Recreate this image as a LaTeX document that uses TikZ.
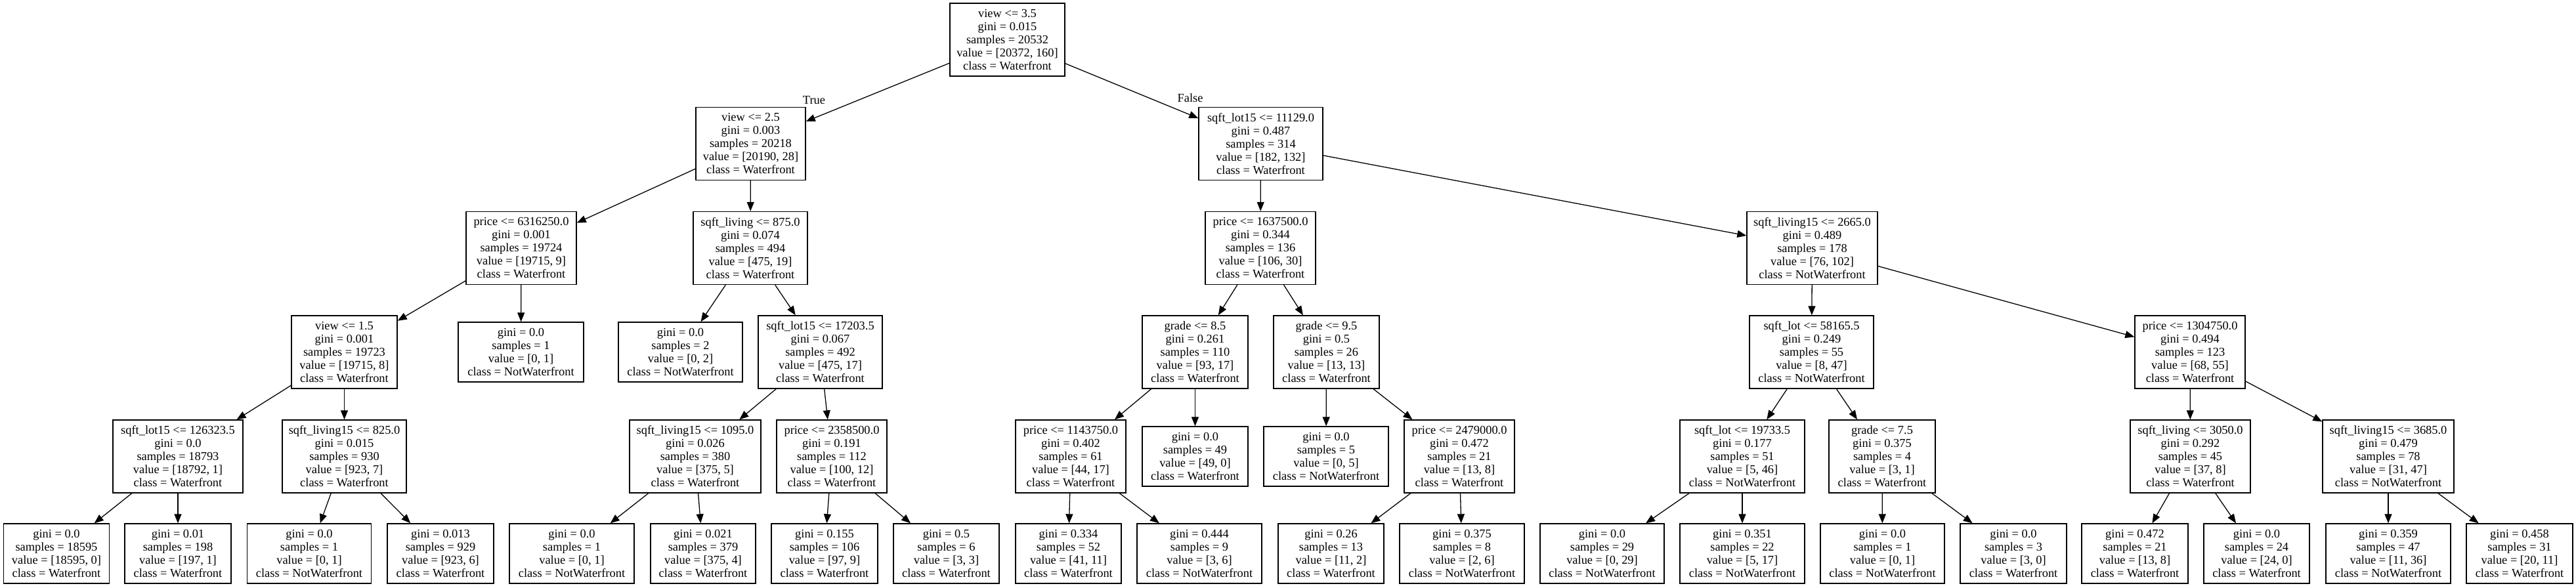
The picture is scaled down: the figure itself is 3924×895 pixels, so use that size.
\documentclass[tikz,border=0pt]{standalone}
\usepackage{fontspec}
\setmainfont{Liberation Serif}
\usetikzlibrary{arrows.meta}
\tikzset{
  tn/.style={draw=black, line width=1.4pt, inner sep=0pt, align=center,
    font=\fontsize{18.4}{20}\selectfont, minimum height=111pt},
  lf/.style={tn, minimum height=91pt},
  ed/.style={-{Triangle[length=14pt,width=11pt]}, line width=1.3pt},
  lbl/.style={inner sep=0pt, font=\fontsize{18.4}{20}\selectfont},
}
\begin{document}
\begin{tikzpicture}[x=1pt,y=-1pt]
\useasboundingbox[fill=white] (0,0) rectangle (3924,895);
% level 0
\node[tn, minimum width=175pt] (n0) at (1534.5,60.5) {view <= 3.5\\gini = 0.015\\samples = 20532\\value = [20372, 160]\\class = Waterfront};
% level 1
\node[tn, minimum width=167pt] (n1) at (1143.5,219) {view <= 2.5\\gini = 0.003\\samples = 20218\\value = [20190, 28]\\class = Waterfront};
\node[tn, minimum width=189pt] (n2) at (1920.5,219) {sqft\_lot15 <= 11129.0\\gini = 0.487\\samples = 314\\value = [182, 132]\\class = Waterfront};
% level 2
\node[tn, minimum width=168pt] (n3) at (794,378) {price <= 6316250.0\\gini = 0.001\\samples = 19724\\value = [19715, 9]\\class = Waterfront};
\node[tn, minimum width=174pt] (n4) at (1143,378) {sqft\_living <= 875.0\\gini = 0.074\\samples = 494\\value = [475, 19]\\class = Waterfront};
\node[tn, minimum width=168pt] (n5) at (1920,378) {price <= 1637500.0\\gini = 0.344\\samples = 136\\value = [106, 30]\\class = Waterfront};
\node[tn, minimum width=199pt] (n6) at (2760.5,378) {sqft\_living15 <= 2665.0\\gini = 0.489\\samples = 178\\value = [76, 102]\\class = NotWaterfront};
% level 3
\node[tn, minimum width=161pt] (n7) at (524.5,536.5) {view <= 1.5\\gini = 0.001\\samples = 19723\\value = [19715, 8]\\class = Waterfront};
\node[lf, minimum width=191pt] (n8) at (793.5,536.5) {gini = 0.0\\samples = 1\\value = [0, 1]\\class = NotWaterfront};
\node[lf, minimum width=189pt] (n9) at (1036.5,536.5) {gini = 0.0\\samples = 2\\value = [0, 2]\\class = NotWaterfront};
\node[tn, minimum width=189pt] (n10) at (1249.5,536.5) {sqft\_lot15 <= 17203.5\\gini = 0.067\\samples = 492\\value = [475, 17]\\class = Waterfront};
\node[tn, minimum width=161pt] (n11) at (1820.5,536.5) {grade <= 8.5\\gini = 0.261\\samples = 110\\value = [93, 17]\\class = Waterfront};
\node[tn, minimum width=161pt] (n12) at (2020.5,536.5) {grade <= 9.5\\gini = 0.5\\samples = 26\\value = [13, 13]\\class = Waterfront};
\node[tn, minimum width=189pt] (n13) at (2759.5,536.5) {sqft\_lot <= 58165.5\\gini = 0.249\\samples = 55\\value = [8, 47]\\class = NotWaterfront};
\node[tn, minimum width=168pt] (n14) at (3336,536.5) {price <= 1304750.0\\gini = 0.494\\samples = 123\\value = [68, 55]\\class = Waterfront};
% level 4
\node[tn, minimum width=198pt] (n15) at (271,695.5) {sqft\_lot15 <= 126323.5\\gini = 0.0\\samples = 18793\\value = [18792, 1]\\class = Waterfront};
\node[tn, minimum width=189pt] (n16) at (524.5,695.5) {sqft\_living15 <= 825.0\\gini = 0.015\\samples = 930\\value = [923, 7]\\class = Waterfront};
\node[tn, minimum width=200pt] (n17) at (1059,695.5) {sqft\_living15 <= 1095.0\\gini = 0.026\\samples = 380\\value = [375, 5]\\class = Waterfront};
\node[tn, minimum width=168pt] (n18) at (1267,695.5) {price <= 2358500.0\\gini = 0.191\\samples = 112\\value = [100, 12]\\class = Waterfront};
\node[tn, minimum width=168pt] (n19) at (1631,695.5) {price <= 1143750.0\\gini = 0.402\\samples = 61\\value = [44, 17]\\class = Waterfront};
\node[lf, minimum width=161pt] (n20) at (1820.5,695.5) {gini = 0.0\\samples = 49\\value = [49, 0]\\class = Waterfront};
\node[lf, minimum width=190pt] (n21) at (2020,695.5) {gini = 0.0\\samples = 5\\value = [0, 5]\\class = NotWaterfront};
\node[tn, minimum width=168pt] (n22) at (2223,695.5) {price <= 2479000.0\\gini = 0.472\\samples = 21\\value = [13, 8]\\class = Waterfront};
\node[tn, minimum width=190pt] (n23) at (2654,695.5) {sqft\_lot <= 19733.5\\gini = 0.177\\samples = 51\\value = [5, 46]\\class = NotWaterfront};
\node[tn, minimum width=162pt] (n24) at (2867,695.5) {grade <= 7.5\\gini = 0.375\\samples = 4\\value = [3, 1]\\class = Waterfront};
\node[tn, minimum width=183pt] (n25) at (3336.5,695.5) {sqft\_living <= 3050.0\\gini = 0.292\\samples = 45\\value = [37, 8]\\class = Waterfront};
\node[tn, minimum width=200pt] (n26) at (3638,695.5) {sqft\_living15 <= 3685.0\\gini = 0.479\\samples = 78\\value = [31, 47]\\class = NotWaterfront};
% level 5
\node[lf, minimum width=161pt] (l1) at (86,843.5) {gini = 0.0\\samples = 18595\\value = [18595, 0]\\class = Waterfront};
\node[lf, minimum width=162pt] (l2) at (271,843.5) {gini = 0.01\\samples = 198\\value = [197, 1]\\class = Waterfront};
\node[lf, minimum width=189pt] (l3) at (471,843.5) {gini = 0.0\\samples = 1\\value = [0, 1]\\class = NotWaterfront};
\node[lf, minimum width=162pt] (l4) at (671,843.5) {gini = 0.013\\samples = 929\\value = [923, 6]\\class = Waterfront};
\node[lf, minimum width=190pt] (l5) at (871,843.5) {gini = 0.0\\samples = 1\\value = [0, 1]\\class = NotWaterfront};
\node[lf, minimum width=160pt] (l6) at (1071,843.5) {gini = 0.021\\samples = 379\\value = [375, 4]\\class = Waterfront};
\node[lf, minimum width=162pt] (l7) at (1256,843.5) {gini = 0.155\\samples = 106\\value = [97, 9]\\class = Waterfront};
\node[lf, minimum width=161pt] (l8) at (1441.5,843.5) {gini = 0.5\\samples = 6\\value = [3, 3]\\class = Waterfront};
\node[lf, minimum width=161pt] (l9) at (1627.5,843.5) {gini = 0.334\\samples = 52\\value = [41, 11]\\class = Waterfront};
\node[lf, minimum width=190pt] (l10) at (1827,843.5) {gini = 0.444\\samples = 9\\value = [3, 6]\\class = NotWaterfront};
\node[lf, minimum width=161pt] (l11) at (2027.5,843.5) {gini = 0.26\\samples = 13\\value = [11, 2]\\class = Waterfront};
\node[lf, minimum width=190pt] (l12) at (2227,843.5) {gini = 0.375\\samples = 8\\value = [2, 6]\\class = NotWaterfront};
\node[lf, minimum width=189pt] (l13) at (2440.5,843.5) {gini = 0.0\\samples = 29\\value = [0, 29]\\class = NotWaterfront};
\node[lf, minimum width=190pt] (l14) at (2654,843.5) {gini = 0.351\\samples = 22\\value = [5, 17]\\class = NotWaterfront};
\node[lf, minimum width=189pt] (l15) at (2867.5,843.5) {gini = 0.0\\samples = 1\\value = [0, 1]\\class = NotWaterfront};
\node[lf, minimum width=162pt] (l16) at (3067,843.5) {gini = 0.0\\samples = 3\\value = [3, 0]\\class = Waterfront};
\node[lf, minimum width=162pt] (l17) at (3252,843.5) {gini = 0.472\\samples = 21\\value = [13, 8]\\class = Waterfront};
\node[lf, minimum width=161pt] (l18) at (3437.5,843.5) {gini = 0.0\\samples = 24\\value = [24, 0]\\class = Waterfront};
\node[lf, minimum width=190pt] (l19) at (3638,843.5) {gini = 0.359\\samples = 47\\value = [11, 36]\\class = NotWaterfront};
\node[lf, minimum width=162pt] (l20) at (3838,843.5) {gini = 0.458\\samples = 31\\value = [20, 11]\\class = Waterfront};
% edge labels
\node[lbl] (tlab) at (1240,153) {True};
\node[lbl] (flab) at (1813,149) {False};
% edges
\foreach \a/\b in {n0/n1,n0/n2,n1/n3,n1/n4,n2/n5,n2/n6,n3/n7,n3/n8,n4/n9,n4/n10,
  n5/n11,n5/n12,n6/n13,n6/n14,n7/n15,n7/n16,n10/n17,n10/n18,n11/n19,n11/n20,
  n12/n21,n12/n22,n13/n23,n13/n24,n14/n25,n14/n26,n15/l1,n15/l2,n16/l3,n16/l4,
  n17/l5,n17/l6,n18/l7,n18/l8,n19/l9,n19/l10,n22/l11,n22/l12,n23/l13,n23/l14,
  n24/l15,n24/l16,n25/l17,n25/l18,n26/l19,n26/l20}
  \draw[ed] (\a) -- (\b);
\end{tikzpicture}
\end{document}
